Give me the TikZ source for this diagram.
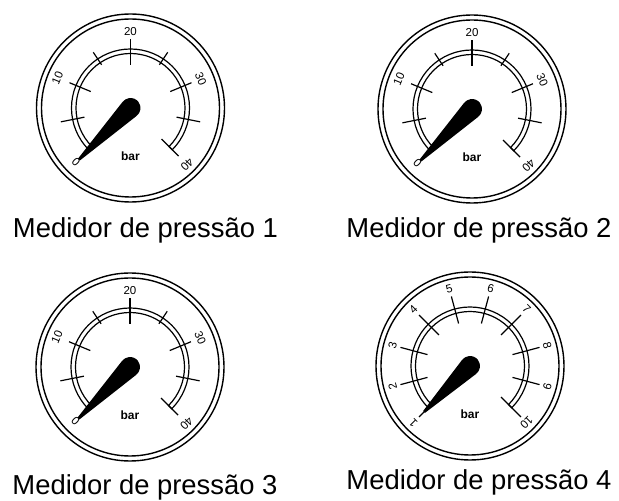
\documentclass[tikz,border=0pt]{standalone}
\usepackage{fontspec}
\setmainfont{Liberation Sans}
\begin{document}
\begin{tikzpicture}[x=1pt,y=1pt,
  rim/.style={line width=1.4pt},
  dial/.style={line width=1.2pt},
  scaletick/.style={line width=1.2pt},
  needle/.style={fill=black},
  scalenum/.style={font=\fontsize{11.5}{11.5}\selectfont, inner sep=0pt},
  unitlabel/.style={font=\fontsize{12}{12}\selectfont\bfseries, inner sep=0pt},
  caption/.style={font=\fontsize{27.4}{30}\selectfont, anchor=base, inner sep=0pt}]
\useasboundingbox (0,0) rectangle (619,501);

% rim, double scale arc, needle and unit of one gauge (drawn around the origin)
\newcommand{\gaugebody}[2]{%
  \draw[rim] (0,0) circle[radius=94];
  \draw[rim] (0,0) circle[radius=89];
  \draw[dial] (225:59) arc[start angle=225,end angle=-45,radius=59]
    -- (-45:54.5) arc[start angle=-45,end angle=225,radius=54.5] -- cycle;
  \fill[needle,rotate=225] (82:10) arc[start angle=82,end angle=278,radius=10]
    -- (#2,-1.3) -- (#2,1.3) -- cycle;
  \node[unitlabel] (#1-unit) at (0,-48) {bar};
}

% gauge with scale 0 ... 40
\newcommand{\gaugeforty}[1]{%
  \gaugebody{#1}{73}
  \foreach \a/\ri/\ro in {191.25/47/71, 157.5/43/66, 123.75/52/67, 90/43/69,
                          56.25/52/67, 22.5/43/66, -11.25/47/71, -45/44/68}
    \draw[scaletick] (\a:\ri) -- (\a:\ro);
  \foreach \v/\a/\r in {0/225/77, 10/157.5/79, 20/90/76, 30/22.5/76, 40/-45/80}
    \node[scalenum, rotate=\a-90] (#1-n\v) at (\a:\r) {\v};
}

% gauge with scale 1 ... 10
\newcommand{\gaugeten}[1]{%
  \gaugebody{#1}{65}
  \foreach \k in {0,...,9}{
    \pgfmathsetmacro\ang{225-30*\k}
    \draw[scaletick] (\ang:44) -- (\ang:72);
  }
  \foreach \v in {1,...,10}{
    \pgfmathsetmacro\ang{255-30*\v}
    \node[scalenum, rotate=\ang-90] (#1-n\v) at (\ang:80) {\v};
  }
}

\begin{scope}[shift={(130.5,393)}] \gaugeforty{g1} \end{scope}
\begin{scope}[shift={(472,392)}]   \gaugeforty{g2} \end{scope}
\begin{scope}[shift={(130,134)}]   \gaugeforty{g3} \end{scope}
\begin{scope}[shift={(470,135)}]   \gaugeten{g4}   \end{scope}

\node[caption] (c1) at (145.5,263) {Medidor de pressão 1};
\node[caption] (c2) at (479,263)   {Medidor de pressão 2};
\node[caption] (c3) at (145,6)     {Medidor de pressão 3};
\node[caption] (c4) at (479,11)    {Medidor de pressão 4};
\end{tikzpicture}
\end{document}
